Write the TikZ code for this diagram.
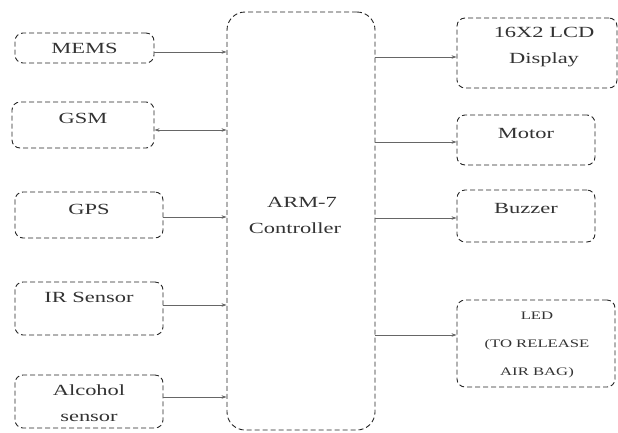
\documentclass[tikz,border=0pt]{standalone}
\usepackage{fontspec}
\setmainfont{Liberation Serif}
\usetikzlibrary{arrows.meta}
\newcommand{\widetxt}[1]{\scalebox{1.45}[1]{#1}}
\begin{document}
\begin{tikzpicture}[x=1pt,y=-1pt,
 box/.style={draw=black!85, dash pattern=on 5pt off 3pt, line width=0.9pt, rounded corners=8pt, inner sep=0pt},
 txt/.style={font=\fontsize{15.5}{26}\selectfont, text=black!80, inner sep=0pt, align=center},
 small/.style={font=\fontsize{11.5}{28}\selectfont, text=black!80, inner sep=0pt, align=center},
 arr/.style={draw=black!60, line width=0.7pt, -{Stealth[length=5pt,width=3.5pt]}},
 barr/.style={draw=black!60, line width=0.7pt, {Stealth[length=5pt,width=3.5pt]}-{Stealth[length=5pt,width=3.5pt]}}]
\useasboundingbox (0,0) rectangle (618,432);
% left boxes
\node[box, minimum width=139pt, minimum height=30pt] (mems) at (84.5,48) {};
\node[box, minimum width=142pt, minimum height=46pt] (gsm) at (83,125) {};
\node[box, minimum width=148pt, minimum height=46pt] (gps) at (89,215) {};
\node[box, minimum width=148pt, minimum height=53pt] (ir) at (89,308.5) {};
\node[box, minimum width=148pt, minimum height=53pt] (alc) at (89,401.5) {};
\node[txt] (memst) at (84.5,48) {\widetxt{MEMS}};
\node[txt] (gsmt) at (83,118) {\widetxt{GSM}};
\node[txt] (gpst) at (89,209) {\widetxt{GPS}};
\node[txt] (irt) at (89,297) {\widetxt{IR Sensor}};
\node[txt] (alct) at (89,403) {\widetxt{Alcohol}\\\widetxt{sensor}};
% controller
\node[box, rounded corners=18pt, minimum width=148pt, minimum height=418pt] (ctrl) at (301,221) {};
\node[txt] (armt) at (302,202) {\widetxt{ARM-7}};
\node[txt] (ctrlt) at (295,228) {\widetxt{Controller}};
% right boxes
\node[box, minimum width=160pt, minimum height=70pt] (lcd) at (537,53) {};
\node[box, minimum width=138pt, minimum height=50pt] (motor) at (526,140) {};
\node[box, minimum width=138pt, minimum height=52pt] (buz) at (526,216) {};
\node[box, minimum width=158pt, minimum height=87pt] (led) at (536,343.5) {};
\node[txt] (lcdt) at (544,47) {\widetxt{16X2 LCD}\\\widetxt{Display}};
\node[txt] (motort) at (526,133) {\widetxt{Motor}};
\node[txt] (buzt) at (526,208) {\widetxt{Buzzer}};
\node[small] (ledt) at (537,345) {\widetxt{LED}\\\widetxt{(TO RELEASE}\\\widetxt{AIR BAG)}};
% connection points
\coordinate (p1) at ([yshift=-4pt]mems.east);
\coordinate (p2) at ([yshift=-5pt]gsm.east);
\coordinate (p3) at ([yshift=-2pt]gps.east);
\coordinate (p4) at ([yshift=3.5pt]ir.east);
\coordinate (p5) at ([yshift=4.5pt]alc.east);
\coordinate (q1) at ([yshift=-4pt]lcd.west);
\coordinate (q2) at ([yshift=-2pt]motor.west);
\coordinate (q3) at ([yshift=-2pt]buz.west);
\coordinate (q4) at ([yshift=8.5pt]led.west);
\draw[arr] (p1) -- (ctrl.west |- p1);
\draw[barr] (p2) -- (ctrl.west |- p2);
\draw[arr] (p3) -- (ctrl.west |- p3);
\draw[arr] (p4) -- (ctrl.west |- p4);
\draw[arr] (p5) -- (ctrl.west |- p5);
\draw[arr] (ctrl.east |- q1) -- (q1);
\draw[arr] (ctrl.east |- q2) -- (q2);
\draw[arr] (ctrl.east |- q3) -- (q3);
\draw[arr] (ctrl.east |- q4) -- (q4);
\end{tikzpicture}
\end{document}
